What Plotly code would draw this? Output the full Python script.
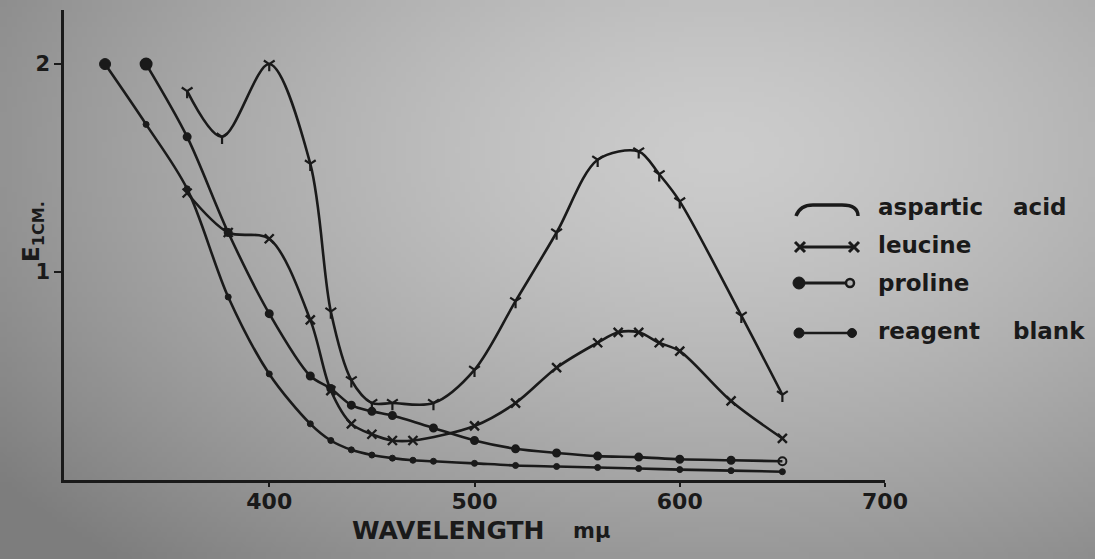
import base64
import struct
import zlib

import numpy as np
import plotly.graph_objects as go

# ---------------- data ----------------
asp_x = [360, 377, 400, 420, 430, 440, 450, 460, 480, 500, 520, 540, 560, 580, 590, 600, 630, 650]
asp_y = [1.87, 1.65, 2.00, 1.52, 0.81, 0.48, 0.37, 0.37, 0.37, 0.53, 0.86, 1.19, 1.54, 1.58, 1.47, 1.34, 0.79, 0.41]

leu_x = [360, 380, 400, 420, 430, 440, 450, 460, 470, 500, 520, 540, 560, 570, 580, 590, 600, 625, 650]
leu_y = [1.38, 1.19, 1.16, 0.77, 0.43, 0.27, 0.22, 0.19, 0.19, 0.26, 0.37, 0.54, 0.66, 0.71, 0.71, 0.66, 0.62, 0.38, 0.20]

pro_x = [340, 360, 380, 400, 420, 430, 440, 450, 460, 480, 500, 520, 540, 560, 580, 600, 625, 650]
pro_y = [2.00, 1.65, 1.19, 0.80, 0.50, 0.44, 0.36, 0.33, 0.31, 0.25, 0.19, 0.15, 0.13, 0.115, 0.11, 0.10, 0.095, 0.09]

rb_x = [320, 340, 360, 380, 400, 420, 430, 440, 450, 460, 470, 480, 500, 520, 540, 560, 580, 600, 625, 650]
rb_y = [2.00, 1.71, 1.40, 0.88, 0.51, 0.27, 0.19, 0.145, 0.12, 0.105, 0.095, 0.09, 0.08, 0.07, 0.065, 0.06, 0.055, 0.05, 0.045, 0.04]

x_ticks = [400, 500, 600, 700]
y_ticks = [1, 2]
legend_names = ["aspartic", "leucine", "proline", "reagent"]
legend_second = ["acid", "", "", "blank"]

INK = "#1a1a1a"
BG = "#b3b3b3"
FONT = "DejaVu Sans"

W, H = 1095, 559
L, R, T, B = 64, 885, 10, 480


def px(x):
    return (x - L) / (R - L)


def py(y):
    return (B - y) / (B - T)


# ---------------- photographic grey background (gradient image) ----------------
def background_png(w=220, h=112):
    gx, gy = np.meshgrid(np.linspace(0, W, w), np.linspace(0, H, h))
    d = np.sqrt(((gx - 720) / 820) ** 2 + ((gy - 150) / 500) ** 2)
    v = 204 - 68 * d ** 1.4
    v = np.clip(v, 125, 212).astype(np.uint8)
    raw = b"".join(b"\x00" + bytes(np.repeat(row, 3).tolist()) for row in v)

    def chunk(tag, data):
        c = struct.pack(">I", len(data)) + tag + data
        return c + struct.pack(">I", zlib.crc32(tag + data) & 0xFFFFFFFF)

    png = b"\x89PNG\r\n\x1a\n" + chunk(b"IHDR", struct.pack(">IIBBBBB", w, h, 8, 2, 0, 0, 0))
    png += chunk(b"IDAT", zlib.compress(raw, 9)) + chunk(b"IEND", b"")
    return "data:image/png;base64," + base64.b64encode(png).decode()


fig = go.Figure()

line_style = dict(color=INK, width=2.6, shape="spline", smoothing=0.9)

fig.add_trace(go.Scatter(
    x=asp_x, y=asp_y, mode="lines+markers", name="aspartic acid",
    line=line_style,
    marker=dict(symbol="y-down-open", size=9, opacity=1, line=dict(color=INK, width=2.2), color=INK),
))
fig.add_trace(go.Scatter(
    x=leu_x, y=leu_y, mode="lines+markers", name="leucine",
    line=line_style,
    marker=dict(symbol="x-thin-open", size=9, opacity=1, line=dict(color=INK, width=2.4), color=INK),
))
pro_sym = ["circle"] * (len(pro_x) - 1) + ["circle-open"]
pro_size = [11] + [7] * (len(pro_x) - 2) + [8]
fig.add_trace(go.Scatter(
    x=pro_x, y=pro_y, mode="lines+markers", name="proline",
    line=line_style,
    marker=dict(symbol=pro_sym, size=pro_size, opacity=1, color=INK, line=dict(color=INK, width=2)),
))
rb_size = [11] + [6] * (len(rb_x) - 1)
fig.add_trace(go.Scatter(
    x=rb_x, y=rb_y, mode="lines+markers", name="reagent blank",
    line=line_style,
    marker=dict(symbol="circle", size=rb_size, opacity=1, color=INK, line=dict(color=INK, width=1)),
))

# ---------------- hand-drawn style legend ----------------
shapes = []
ann = []
rows_y = [209, 247, 283, 333]
text_y = [207, 245, 283, 331]
lx0, lx1 = 799, 856


def P(x, y):
    return f"{px(x):.5f},{py(y):.5f}"


# aspartic: arch
y0 = rows_y[0]
shapes.append(dict(type="path", xref="paper", yref="paper",
                   path=f"M {P(lx0-3, y0+7)} Q {P(lx0+1, y0-4)} {P(lx0+14, y0-4)} L {P(lx1-14, y0-4)} Q {P(lx1+2, y0-4)} {P(lx1+2, y0+7)}",
                   line=dict(color=INK, width=3.4)))
# leucine: x---x
y1 = rows_y[1]
shapes.append(dict(type="line", xref="paper", yref="paper", x0=px(lx0), x1=px(lx1), y0=py(y1), y1=py(y1),
                   line=dict(color=INK, width=3)))
for cx in (lx0 + 1, lx1 - 2):
    shapes.append(dict(type="path", xref="paper", yref="paper",
                       path=f"M {P(cx-5, y1-5)} L {P(cx+5, y1+5)} M {P(cx-5, y1+5)} L {P(cx+5, y1-5)}",
                       line=dict(color=INK, width=3)))
# proline: filled --- open
y2 = rows_y[2]
shapes.append(dict(type="line", xref="paper", yref="paper", x0=px(lx0), x1=px(lx1 - 8), y0=py(y2), y1=py(y2),
                   line=dict(color=INK, width=3)))
shapes.append(dict(type="circle", xref="paper", yref="paper",
                   x0=px(lx0 - 6), x1=px(lx0 + 6), y0=py(y2 - 6), y1=py(y2 + 6),
                   fillcolor=INK, line=dict(color=INK, width=1)))
shapes.append(dict(type="circle", xref="paper", yref="paper",
                   x0=px(lx1 - 10), x1=px(lx1 - 2), y0=py(y2 - 4), y1=py(y2 + 4),
                   fillcolor=BG, line=dict(color=INK, width=2.5)))
# reagent blank: dot --- dot
y3 = rows_y[3]
shapes.append(dict(type="line", xref="paper", yref="paper", x0=px(lx0), x1=px(lx1 - 4), y0=py(y3), y1=py(y3),
                   line=dict(color=INK, width=2.6)))
for cx, r in ((lx0, 5), (lx1 - 4, 4.5)):
    shapes.append(dict(type="circle", xref="paper", yref="paper",
                       x0=px(cx - r), x1=px(cx + r), y0=py(y3 - r), y1=py(y3 + r),
                       fillcolor=INK, line=dict(color=INK, width=1)))

lfont = dict(family=FONT, size=23, color=INK, weight="bold")
for name, second, yy in zip(legend_names, legend_second, text_y):
    ann.append(dict(x=px(876), y=py(yy), xref="paper", yref="paper", text=name, showarrow=False,
                    xanchor="left", yanchor="middle", font=lfont))
    if second:
        ann.append(dict(x=px(1011), y=py(yy), xref="paper", yref="paper", text=second, showarrow=False,
                        xanchor="left", yanchor="middle", font=lfont))

# axis titles
ann.append(dict(x=px(350), y=py(530), xref="paper", yref="paper", text="WAVELENGTH", showarrow=False,
                xanchor="left", yanchor="middle",
                font=dict(family=FONT, size=25, color=INK, weight="bold")))
ann.append(dict(x=px(571), y=py(531), xref="paper", yref="paper", text="mμ", showarrow=False,
                xanchor="left", yanchor="middle",
                font=dict(family=FONT, size=21, color=INK, weight="bold")))
ann.append(dict(x=px(33), y=py(232), xref="paper", yref="paper", text="E<sub>1CM.</sub>", showarrow=False,
                textangle=-90, xanchor="center", yanchor="middle",
                font=dict(family=FONT, size=23, color=INK, weight="bold")))

fig.update_layout(
    width=W, height=H,
    margin=dict(l=L, r=W - R, t=T, b=H - B, pad=0),
    paper_bgcolor=BG, plot_bgcolor="rgba(0,0,0,0)",
    showlegend=False,
    shapes=shapes, annotations=ann,
    images=[dict(source=background_png(), xref="paper", yref="paper",
                 x=px(0), y=py(0), sizex=px(W) - px(0), sizey=py(0) - py(H),
                 xanchor="left", yanchor="top", sizing="stretch", layer="below")],
    xaxis=dict(range=[300, 700], tickvals=x_ticks, ticktext=[str(v) for v in x_ticks],
               showgrid=False, zeroline=False, showline=True, linecolor=INK, linewidth=2.5,
               ticks="outside", ticklen=4, tickwidth=2, tickcolor=INK, ticklabelstandoff=-4,
               tickfont=dict(family=FONT, size=22, color=INK, weight="bold")),
    yaxis=dict(range=[0, 2.26], tickvals=y_ticks, ticktext=[str(v) for v in y_ticks],
               showgrid=False, zeroline=False, showline=True, linecolor=INK, linewidth=2.5,
               ticks="outside", ticklen=7, tickwidth=2, tickcolor=INK,
               tickfont=dict(family=FONT, size=21, color=INK, weight="bold")),
)

fig.write_html("out.html", config={"displayModeBar": False},
               post_script="document.body.style.margin='0';document.body.style.overflow='hidden';")
